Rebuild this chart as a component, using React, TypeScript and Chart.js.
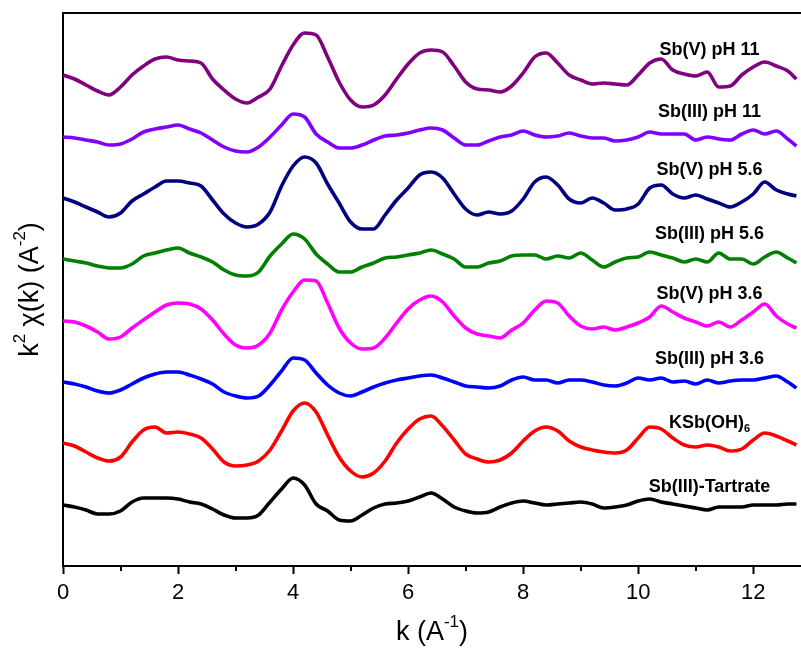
import React, { useEffect, useRef } from "react";
import { Chart, registerables } from "chart.js";

Chart.register(...registerables);

// photoelectron wavenumber k (Å^-1)
const K = [
  0, 0.2, 0.4, 0.6, 0.8, 1.0, 1.2, 1.4, 1.6, 1.8,
  2.0, 2.2, 2.4, 2.6, 2.8, 3.0, 3.2, 3.4, 3.6, 3.8,
  4.0, 4.2, 4.4, 4.6, 4.8, 5.0, 5.2, 5.4, 5.6, 5.8,
  6.0, 6.2, 6.4, 6.6, 6.8, 7.0, 7.2, 7.4, 7.6, 7.8,
  8.0, 8.2, 8.4, 8.6, 8.8, 9.0, 9.2, 9.4, 9.6, 9.8,
  10.0, 10.2, 10.4, 10.6, 10.8, 11.0, 11.2, 11.4, 11.6, 11.8,
  12.0, 12.2, 12.4, 12.6, 12.75,
];

const SERIES_NAMES = [
  "Sb(V) pH 11",
  "Sb(III) pH 11",
  "Sb(V) pH 5.6",
  "Sb(III) pH 5.6",
  "Sb(V) pH 3.6",
  "Sb(III) pH 3.6",
  "KSb(OH)6",
  "Sb(III)-Tartrate",
];

// vertical stacking offsets (arbitrary units)
const OFFSETS = [49.1, 43.0, 36.8, 30.7, 24.5, 18.4, 12.3, 6.1];

const SBV_PH11 = [
  0, -0.4, -1.0, -1.6, -2.0, -1.2, 0, 0.9, 1.6, 1.8,
  1.5, 1.4, 1.2, -0.4, -1.5, -2.4, -2.8, -2.2, -1.4, 0.9,
  3.0, 4.2, 4.0, 1.8, -0.7, -2.5, -3.2, -3.0, -2.0, -0.4,
  1.1, 2.2, 2.5, 2.3, 0.9, -0.7, -1.4, -1.5, -1.7, -1.1,
  0.2, 1.8, 2.2, 1.2, 0, -0.5, -0.9, -0.8, -0.9, -1.0,
  0, 1.2, 1.6, 0.5, 0.1, -0.1, 0.3, -1.2, -1.1, 0,
  0.8, 1.3, 0.9, 0.4, -0.4,
];
const SBIII_PH11 = [
  -0.1, -0.2, -0.4, -0.6, -0.9, -0.8, -0.3, 0.4, 0.7, 0.9,
  1.1, 0.7, 0.3, -0.4, -1.1, -1.5, -1.6, -1.1, -0.1, 1.1,
  2.2, 1.9, 0.2, -0.6, -1.2, -1.2, -0.9, -0.4, 0, 0.1,
  0.3, 0.6, 0.8, 0.6, -0.2, -0.9, -0.9, -0.5, -0.1, 0.1,
  0.5, 0.1, -0.1, 0, 0.3, 0, -0.2, -0.2, -0.5, -0.4,
  -0.1, 0.4, 0.2, 0.2, 0.2, -0.4, -0.1, -0.3, -0.4, 0.2,
  0.6, 0.2, 0.5, -0.3, -1.0,
];
const SBV_PH56 = [
  0, -0.4, -0.9, -1.4, -1.9, -1.5, -0.3, 0.4, 1.1, 1.7,
  1.7, 1.5, 1.2, -0.2, -1.6, -2.5, -2.9, -2.6, -1.4, 1.2,
  3.2, 4.1, 3.5, 1.4, -0.5, -2.4, -3.1, -3.1, -1.7, -0.2,
  1.0, 2.3, 2.6, 2.0, 0.4, -1.1, -1.7, -1.4, -1.6, -1.3,
  -0.1, 1.6, 2.1, 1.3, -0.1, -0.5, 0, -0.5, -1.2, -1.1,
  -0.6, 1.0, 1.3, 0.4, 0, 0.3, -0.1, -0.5, -0.9, -0.4,
  0.4, 1.6, 0.8, 0.4, 0.2,
];
const SBIII_PH56 = [
  0, -0.2, -0.4, -0.7, -0.9, -0.9, -0.5, 0.3, 0.6, 0.9,
  1.1, 0.6, 0.2, -0.3, -1.1, -1.6, -1.7, -1.3, 0.3, 1.5,
  2.5, 2.0, 0.5, -0.5, -1.3, -1.3, -0.8, -0.4, 0.1, 0.2,
  0.4, 0.6, 0.9, 0.5, 0, -0.8, -0.8, -0.4, -0.2, 0.3,
  0.4, 0.4, 0, 0.3, 0.1, 0.6, -0.1, -0.8, -0.3, 0.1,
  0.2, 0.7, 0.4, 0.1, -0.3, 0, -0.3, 0.6, 0, 0,
  -0.5, 0.2, 0.7, 0.1, -0.4,
];
const SBV_PH36 = [
  0, -0.1, -0.5, -1.1, -1.8, -1.6, -0.7, 0.1, 0.9, 1.6,
  1.8, 1.7, 1.2, 0.1, -1.3, -2.4, -2.7, -2.4, -1.2, 1.1,
  2.9, 4.1, 4.0, 1.8, -0.7, -2.2, -2.8, -2.7, -1.7, -0.2,
  1.2, 2.1, 2.5, 1.9, 0.5, -0.7, -1.3, -1.5, -1.7, -0.9,
  -0.2, 1.1, 2.0, 1.8, 0.5, -0.5, -0.8, -0.6, -0.9, -0.6,
  -0.2, 0.4, 1.5, 0.9, 0.3, -0.1, -0.5, -0.1, -0.6, 0.1,
  0.9, 1.7, 0.5, -0.3, -0.7,
];
const SBIII_PH36 = [
  0, -0.2, -0.5, -0.9, -1.1, -0.8, -0.2, 0.4, 0.8, 1.0,
  1.0, 0.7, 0.3, -0.2, -1.0, -1.4, -1.6, -1.4, -0.3, 1.1,
  2.4, 2.2, 0.9, -0.3, -1.1, -1.4, -1.0, -0.5, -0.1, 0.2,
  0.4, 0.6, 0.7, 0.4, 0, -0.4, -0.5, -0.6, -0.4, 0.2,
  0.5, 0.2, 0.2, -0.1, 0.2, 0.2, 0, -0.3, -0.4, -0.1,
  0.4, 0.2, 0.4, 0, 0.1, -0.2, 0.2, -0.1, 0.1, 0.2,
  0.2, 0.4, 0.6, 0, -0.6,
];
const KSBOH6 = [
  0, -0.3, -0.9, -1.5, -1.8, -1.4, 0.1, 1.3, 1.6, 1.0,
  1.1, 0.9, 0.5, -0.6, -1.9, -2.3, -2.2, -1.8, -0.7, 1.2,
  3.2, 4.0, 3.1, 0.8, -1.4, -2.8, -3.4, -3.0, -1.8, 0,
  1.4, 2.4, 2.7, 1.7, 0.3, -1.1, -1.6, -1.9, -1.7, -1.0,
  0.2, 1.2, 1.6, 1.2, 0.2, -0.4, -0.7, -0.9, -1.0, -0.7,
  0.5, 1.6, 1.4, 0.5, -0.2, -0.4, -0.2, -0.4, -0.8, -0.6,
  0.3, 1.0, 0.7, 0.2, -0.2,
];
const SBIII_TARTRATE = [
  0, -0.2, -0.5, -0.9, -0.9, -0.6, 0.3, 0.7, 0.7, 0.7,
  0.6, 0.3, 0.1, -0.4, -1.0, -1.3, -1.3, -1.0, 0.3, 1.6,
  2.7, 2.0, 0.1, -0.6, -1.5, -1.6, -1.0, -0.3, 0.1, 0.2,
  0.4, 0.8, 1.2, 0.6, -0.2, -0.6, -0.8, -0.7, -0.2, 0.2,
  0.4, 0.2, 0, 0.1, 0.2, 0.3, 0.1, -0.3, -0.2, 0,
  0.4, 0.6, 0.3, 0.1, -0.1, -0.3, -0.5, -0.2, -0.2, -0.2,
  0, 0, 0, 0.1, 0.1,
];

const SERIES_VALUES = [
  SBV_PH11, SBIII_PH11, SBV_PH56, SBIII_PH56,
  SBV_PH36, SBIII_PH36, KSBOH6, SBIII_TARTRATE,
];

const X_MAJOR_TICKS = [0, 2, 4, 6, 8, 10, 12];
const X_MINOR_TICKS = [1, 3, 5, 7, 9, 11];

// styling
const COLORS = ["#800080", "#8000FF", "#000080", "#008000", "#FF00FF", "#0000FF", "#FF0000", "#000000"];
const LABEL_X = 11.24;
const LABEL_DY = [2.5, 2.4, 2.8, 2.5, 2.7, 2.3, 2.0, 1.8];
const FONT = "'Liberation Sans', Arial, Helvetica, sans-serif";

function drawRich(ctx: CanvasRenderingContext2D, parts: { t: string; s?: "sup" | "sub" }[], size: number, weight: string, cx: number, cy: number) {
  const main = `${weight} ${size}px ${FONT}`;
  const small = `${weight} ${Math.round(size * 0.62)}px ${FONT}`;
  let total = 0;
  for (const p of parts) {
    ctx.font = p.s ? small : main;
    total += ctx.measureText(p.t).width;
  }
  let x = cx - total / 2;
  ctx.textAlign = "left";
  ctx.textBaseline = "middle";
  for (const p of parts) {
    ctx.font = p.s ? small : main;
    const dy = p.s === "sup" ? -size * 0.38 : p.s === "sub" ? size * 0.35 : 0;
    ctx.fillText(p.t, x, cy + dy);
    x += ctx.measureText(p.t).width;
  }
}

const decorPlugin = {
  id: "decor",
  afterDraw(chart: any) {
    const { ctx, chartArea, scales } = chart;
    const xs = scales.x;
    const ys = scales.y;
    ctx.save();
    ctx.strokeStyle = "#000";
    ctx.lineWidth = 2;
    // top frame line
    ctx.beginPath();
    ctx.moveTo(chartArea.left - 1, chartArea.top);
    ctx.lineTo(chartArea.right, chartArea.top);
    ctx.stroke();
    // minor ticks
    for (const v of X_MINOR_TICKS) {
      const px = Math.round(xs.getPixelForValue(v));
      ctx.beginPath();
      ctx.moveTo(px, chartArea.bottom);
      ctx.lineTo(px, chartArea.bottom + 5);
      ctx.stroke();
    }
    ctx.fillStyle = "#000";
    // series labels
    SERIES_NAMES.forEach((name, i) => {
      const cx = xs.getPixelForValue(LABEL_X);
      const cy = ys.getPixelForValue(OFFSETS[i] + LABEL_DY[i]);
      const parts = name === "KSb(OH)6" ? [{ t: "KSb(OH)" }, { t: "6", s: "sub" as const }] : [{ t: name }];
      drawRich(ctx, parts, 18, "bold", cx, cy);
    });
    // x title
    drawRich(ctx, [{ t: "k (A" }, { t: "-1", s: "sup" }, { t: ")" }], 27, "normal", (chartArea.left + chartArea.right) / 2, 633);
    // y title
    ctx.translate(31, (chartArea.top + chartArea.bottom) / 2);
    ctx.rotate(-Math.PI / 2);
    drawRich(ctx, [{ t: "k" }, { t: "2", s: "sup" }, { t: " χ(k) (A" }, { t: "-2", s: "sup" }, { t: ")" }], 27, "normal", 0, 0);
    ctx.restore();
  },
};

export default function App() {
  const ref = useRef<HTMLCanvasElement | null>(null);
  useEffect(() => {
    document.body.style.margin = "0";
    const canvas = ref.current;
    if (!canvas) return;
    const datasets = SERIES_NAMES.map((name, i) => ({
      label: name,
      data: K.map((k, j) => ({ x: k, y: OFFSETS[i] + SERIES_VALUES[i][j] })),
      borderColor: COLORS[i],
      backgroundColor: COLORS[i],
      borderWidth: 3.6,
      pointRadius: 0,
      cubicInterpolationMode: "monotone" as const,
      fill: false,
    }));
    const chart = new Chart(canvas, {
      type: "line",
      data: { datasets },
      options: {
        animation: false,
        responsive: false,
        devicePixelRatio: 1,
        layout: { padding: { top: 13, right: 0, left: 0, bottom: 0 } },
        plugins: { legend: { display: false }, tooltip: { enabled: false } },
        scales: {
          x: {
            type: "linear",
            min: 0,
            max: 12.83,
            afterBuildTicks: (s: any) => {
              s.ticks = X_MAJOR_TICKS.map((v) => ({ value: v }));
            },
            afterFit: (s: any) => {
              s.height = 91;
            },
            ticks: {
              color: "#000",
              font: { size: 22, family: FONT },
              padding: 6,
              maxRotation: 0,
              includeBounds: false,
            },
            grid: {
              display: true,
              drawOnChartArea: false,
              drawTicks: true,
              tickLength: 8,
              tickWidth: 2,
              tickColor: "#000",
            },
            border: { display: true, color: "#000", width: 2 },
          },
          y: {
            type: "linear",
            min: 0,
            max: 55.3,
            afterFit: (s: any) => {
              s.width = 63;
            },
            ticks: { display: false },
            grid: { display: false },
            border: { display: true, color: "#000", width: 2 },
          },
        },
      },
      plugins: [decorPlugin],
    });
    return () => chart.destroy();
  }, []);
  return (
    <div style={{ width: 801, height: 657, background: "#fff" }}>
      <canvas ref={ref} width={801} height={657} />
    </div>
  );
}
